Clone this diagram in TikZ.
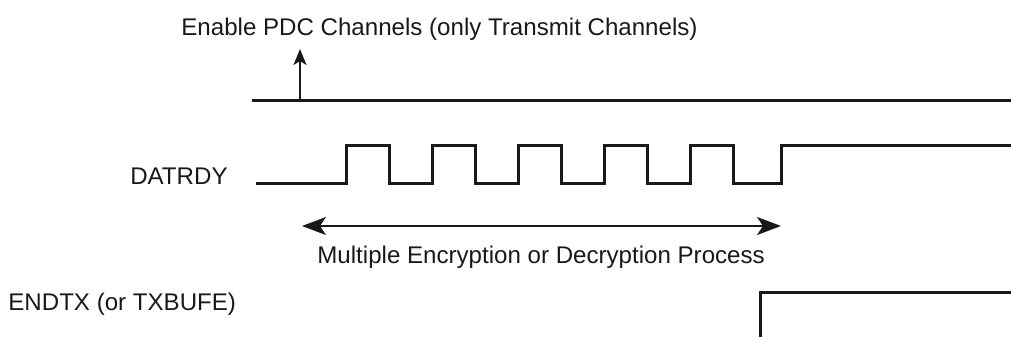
\documentclass[tikz,border=0pt]{standalone}
\usepackage{fontspec}
\setmainfont{Liberation Sans}
\usetikzlibrary{arrows.meta}
\begin{document}
\begin{tikzpicture}[x=0.5pt,y=-0.5pt,
  signal/.style={line width=1.5pt,line join=miter,color=black!90},
  lbl/.style={inner sep=0pt,font=\fontsize{12.05}{14}\selectfont,text=black!90},
  arr/.style={line width=0.9pt,color=black!90,-{Stealth[length=8pt,width=6.5pt,inset=2pt]}},
  darr/.style={line width=1pt,color=black!90,{Stealth[length=12pt,width=9pt,inset=3pt]}-{Stealth[length=12pt,width=9pt,inset=3pt]}}]
\useasboundingbox (0,0) rectangle (1011,337);
% labels
\node[lbl,anchor=base west] (enable) at (181,35) {Enable PDC Channels (only Transmit Channels)};
\node[lbl,anchor=base east] (datrdy) at (228,184) {DATRDY};
\node[lbl,anchor=base west] (process) at (317,263) {Multiple Encryption or Decryption Process};
\node[lbl,anchor=base west] (endtx) at (8,310) {ENDTX (or TXBUFE)};
% top enable line
\draw[signal] (252,100) -- (1011,100);
\coordinate (ebase) at (300,100);
\coordinate (etip) at (300,49);
\draw[arr] (ebase) -- (etip);
% DATRDY waveform
\draw[signal] (256,183) -- (346,183) -- (346,145) -- (389,145) -- (389,183)
  -- (432,183) -- (432,145) -- (475,145) -- (475,183)
  -- (518,183) -- (518,145) -- (561,145) -- (561,183)
  -- (604,183) -- (604,145) -- (647,145) -- (647,183)
  -- (690,183) -- (690,145) -- (733,145) -- (733,183)
  -- (781,183) -- (781,145) -- (1011,145);
% process arrow
\coordinate (pl) at (302,226);
\coordinate (pr) at (781,226);
\draw[darr] (pl) -- (pr);
% ENDTX waveform
\draw[signal] (760,337) -- (760,292) -- (1011,292);
\end{tikzpicture}
\end{document}
